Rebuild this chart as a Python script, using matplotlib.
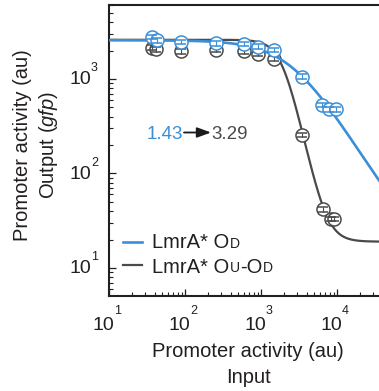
import matplotlib
matplotlib.use('Agg')
import matplotlib.pyplot as plt
import numpy as np
from matplotlib.lines import Line2D
from matplotlib.transforms import blended_transform_factory, offset_copy
from matplotlib.ticker import LogLocator, NullFormatter

plt.rcParams['font.family'] = ['Liberation Sans', 'DejaVu Sans']
plt.rcParams['mathtext.fontset'] = 'custom'
plt.rcParams['mathtext.rm'] = 'Liberation Sans'
plt.rcParams['mathtext.it'] = 'Liberation Sans:italic'

# ---------------- data ----------------
od_x = [37.2, 43.3, 87.7, 253, 597, 921, 1483, 3490, 6410, 7850, 9610]
od_y = [2790, 2560, 2480, 2388, 2345, 2198, 2028, 1058, 531, 478, 478]
od_err = [150, 140, 130, 130, 125, 120, 110, 60, 30, 27, 27]

ouod_x = [37.2, 42.0, 87.7, 253, 597, 921, 1483, 3490, 6600, 8260, 9140]
ouod_y = [2150, 2060, 1965, 2030, 1965, 1840, 1640, 255, 41.8, 33, 33]
ouod_err = [120, 115, 110, 110, 105, 100, 90, 14, 2.3, 1.8, 1.8]

# Hill-fit parameters (ymax, ymin, K, n)
od_fit = dict(ymax=2570, ymin=10, K=2663, n=1.35)
ouod_fit = dict(ymax=2600, ymin=19, K=1951, n=3.8)

hill_labels = ['1.43', '3.29']
legend_labels = [('LmrA* O', 'D'), ('LmrA* O', 'U', '-O', 'D')]
x_decades = [1, 2, 3, 4]
y_decades = [1, 2, 3]

BLUE = '#3b8ed8'
GRAY = '#4a4a4a'
TXT = '#231f20'

W, H = 379, 391
fig = plt.figure(figsize=(W / 100, H / 100), dpi=100)
ax = fig.add_axes([109 / W, 95 / H, 304 / W, 291 / H])
ax.set_xscale('log')
ax.set_yscale('log')
ax.set_xlim(10, 1e5)
ax.set_ylim(10 ** 0.7037, 10 ** 3.783)

def hill(x, ymax, ymin, K, n):
    return ymin + (ymax - ymin) / (1 + (x / K) ** n)

xc = np.logspace(1, 5, 400)
ax.plot(xc, hill(xc, **ouod_fit), color=GRAY, lw=1.6, zorder=2)
ax.errorbar(ouod_x, ouod_y, yerr=ouod_err, fmt='o', ms=9.4, mfc='white',
            mec=GRAY, mew=1.1, ecolor=GRAY, elinewidth=0.8, capsize=3.5,
            capthick=0.8, barsabove=True, zorder=3)
ax.plot(xc, hill(xc, **od_fit), color=BLUE, lw=1.9, zorder=4)
ax.errorbar(od_x, od_y, yerr=od_err, fmt='o', ms=9.4, mfc='white',
            mec=BLUE, mew=1.1, ecolor=BLUE, elinewidth=0.8, capsize=3.5,
            capthick=0.8, barsabove=True, zorder=5)

# spines / ticks
for s in ['left', 'bottom', 'top']:
    ax.spines[s].set_linewidth(1.5)
    ax.spines[s].set_color(TXT)
ax.spines['right'].set_visible(False)
ax.xaxis.set_major_locator(LogLocator(base=10, numticks=10))
ax.xaxis.set_minor_locator(LogLocator(base=10, subs=np.arange(2, 10), numticks=20))
ax.yaxis.set_major_locator(LogLocator(base=10, numticks=10))
ax.yaxis.set_minor_locator(LogLocator(base=10, subs=np.arange(2, 10), numticks=20))
ax.xaxis.set_major_formatter(NullFormatter())
ax.xaxis.set_minor_formatter(NullFormatter())
ax.yaxis.set_major_formatter(NullFormatter())
ax.yaxis.set_minor_formatter(NullFormatter())
ax.tick_params(which='both', direction='in', top=False, right=False, color=TXT)
ax.tick_params(which='major', length=5, width=0.9)
ax.tick_params(which='minor', length=3, width=0.8)

PT = 72 / 100  # points per pixel

# x tick labels
tx = blended_transform_factory(ax.transData, ax.transAxes)
for d in x_decades:
    t1 = offset_copy(tx, fig=fig, x=-6 * PT, y=-29 * PT, units='points')
    ax.text(10 ** d, 0, '10', transform=t1, ha='center', va='center',
            fontsize=14, color=TXT, clip_on=False)
    t2 = offset_copy(tx, fig=fig, x=5 * PT, y=-15.5 * PT, units='points')
    ax.text(10 ** d, 0, str(d), transform=t2, ha='left', va='center',
            fontsize=9, color=TXT, clip_on=False)

# y tick labels
ty = blended_transform_factory(ax.transAxes, ax.transData)
for d in y_decades:
    t1 = offset_copy(ty, fig=fig, x=-18 * PT, y=-1 * PT, units='points')
    ax.text(0, 10 ** d, '10', transform=t1, ha='right', va='center',
            fontsize=14, color=TXT, clip_on=False)
    t2 = offset_copy(ty, fig=fig, x=-18 * PT, y=10.5 * PT, units='points')
    ax.text(0, 10 ** d, str(d), transform=t2, ha='left', va='center',
            fontsize=9, color=TXT, clip_on=False)

# axis labels
fig.text(248 / W, 1 - 356.7 / H, 'Promoter activity (au)', ha='center',
         va='baseline', fontsize=14.5, color=TXT)
fig.text(248 / W, 1 - 383 / H, 'Input', ha='center', va='baseline',
         fontsize=14.5, color=TXT)
fig.text(28 / W, 1 - 145 / H, 'Promoter activity (au)', rotation=90,
         rotation_mode='anchor', ha='center', va='baseline', fontsize=14.5,
         color=TXT)
fig.text(54 / W, 1 - 145 / H, 'Output ($\\mathit{gfp}$)', rotation=90,
         rotation_mode='anchor', ha='center', va='baseline', fontsize=14.5,
         color=TXT)

# Hill coefficient annotation
fig.text(147 / W, 1 - 139 / H, hill_labels[0], ha='left', va='baseline',
         fontsize=13.5, color=BLUE)
fig.text(211 / W, 1 - 139 / H, hill_labels[1], ha='left', va='baseline',
         fontsize=13.5, color=GRAY)
ax.annotate('', xy=(211, H - 132.5), xytext=(184, H - 132.5),
            xycoords='figure pixels', textcoords='figure pixels',
            arrowprops=dict(arrowstyle='-|>,head_length=0.6,head_width=0.22',
                            mutation_scale=14, lw=1.3, color='#1a1a1a',
                            shrinkA=0, shrinkB=0))

# legend (manual, with small-caps subscripts)
def chain(parts, x_px, base_px):
    t = fig.text(x_px / W, 1 - base_px / H, parts[0], ha='left', va='baseline',
                 fontsize=14.5, color=TXT)
    big = True
    for p in parts[1:]:
        big = not big
        if not big:
            t = ax.annotate(p, xy=(1, 0), xycoords=t, xytext=(0.3, 1.0),
                            textcoords='offset points', ha='left', va='bottom',
                            fontsize=10, color=TXT, annotation_clip=False)
        else:
            t = ax.annotate(p, xy=(1, 0), xycoords=t, xytext=(0.3, -1.0),
                            textcoords='offset points', ha='left', va='bottom',
                            fontsize=14.5, color=TXT, annotation_clip=False)
    return t

rows = [(legend_labels[0], BLUE, 1.9, 241.7, 248.3),
        (legend_labels[1], GRAY, 1.6, 265.0, 272.7)]
for parts, col, lw, ly, base in rows:
    fig.add_artist(Line2D([122.7 / W, 142.3 / W], [1 - ly / H] * 2, color=col, lw=lw))
    chain(parts, 152, base)

fig.savefig('out.png', dpi=100)
